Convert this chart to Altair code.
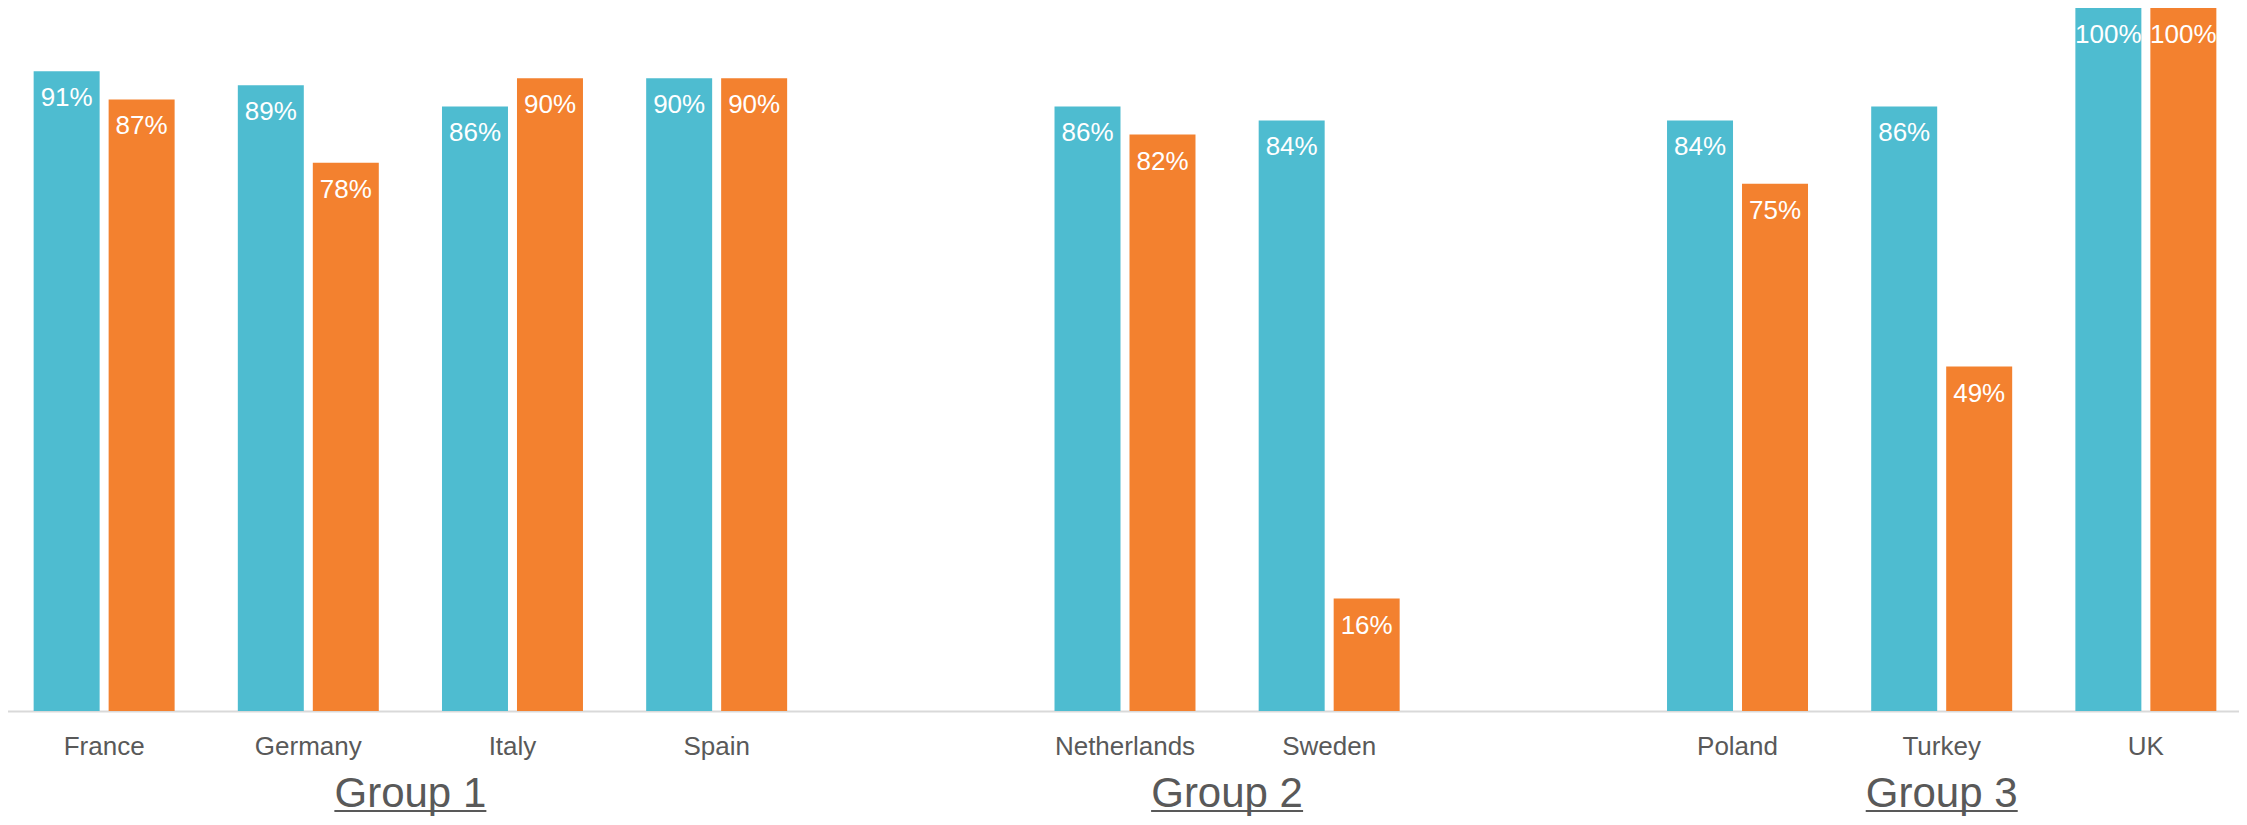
import altair as alt
import pandas as pd

# ---- data ----
countries = ["France", "Germany", "Italy", "Spain", "Netherlands", "Sweden", "Poland", "Turkey", "UK"]
country_groups = ["Group 1", "Group 1", "Group 1", "Group 1", "Group 2", "Group 2", "Group 3", "Group 3", "Group 3"]
group_names = ["Group 1", "Group 2", "Group 3"]
series_names = ["Series 1", "Series 2"]
series_1 = [91, 89, 86, 90, 86, 84, 84, 86, 100]
series_2 = [87, 78, 90, 90, 82, 16, 75, 49, 100]
colors = ["#4EBCD0", "#F3812F"]

# category slots: one empty slot between consecutive groups
slots = []
for gi, g in enumerate(group_names):
    if gi > 0:
        slots.append(" " * gi)
    slots += [c for c, cg in zip(countries, country_groups) if cg == g]
slot_index = {s: i for i, s in enumerate(slots)}

rows = []
for c, a, b in zip(countries, series_1, series_2):
    rows.append({"country": c, "series": series_names[0], "value": a, "label": f"{a}%"})
    rows.append({"country": c, "series": series_names[1], "value": b, "label": f"{b}%"})
df = pd.DataFrame(rows)

grp_rows = []
for g in group_names:
    idx = [slot_index[c] for c, cg in zip(countries, country_groups) if cg == g]
    grp_rows.append({"group": g, "center": sum(idx) / len(idx)})
gdf = pd.DataFrame(grp_rows)

# ---- layout ----
W, H = 2231, 703
X_RANGE = [-6, 2240]
TEXT = "#595959"
FONT = "Liberation Sans"

band_scale = alt.Scale(domain=slots, range=X_RANGE, paddingInner=0.3095, paddingOuter=0.155)
x_band = alt.X(
    "country:N",
    sort=slots,
    scale=band_scale,
    axis=alt.Axis(
        title=None, ticks=False, tickSize=0, labels=True, labelPadding=22, labelFontSize=26,
        labelColor=TEXT, labelFont=FONT, labelAngle=0, labelOverlap=False,
        domain=True, domainColor="#D9D9D9", domainWidth=2, grid=False, orient="bottom",
    ),
)
x_band_noaxis = alt.X("country:N", sort=slots, scale=band_scale, axis=None)
x_off = alt.XOffset("series:N", scale=alt.Scale(domain=series_names, paddingInner=0.12, paddingOuter=0))
y_val = alt.Y("value:Q", scale=alt.Scale(domain=[0, 100], nice=False), axis=None)

bars = alt.Chart(df).mark_bar().encode(
    x=x_band,
    xOffset=x_off,
    y=y_val,
    color=alt.Color("series:N", scale=alt.Scale(domain=series_names, range=colors), legend=None),
)
labels = alt.Chart(df).mark_text(
    baseline="top", dy=14, fontSize=26, font=FONT, color="white"
).encode(x=x_band_noaxis, xOffset=x_off, y=y_val, text="label:N")

x_lin = alt.X(
    "center:Q",
    scale=alt.Scale(domain=[-0.5, len(slots) - 0.5], range=X_RANGE, nice=False, zero=False),
    axis=None,
)
gtext = alt.Chart(gdf).mark_text(
    fontSize=42, font=FONT, color=TEXT, baseline="alphabetic", align="center"
).encode(x=x_lin, y=alt.value(799), text="group:N")
gline = alt.Chart(gdf).mark_rule(
    color=TEXT, strokeWidth=2, xOffset=-76, x2Offset=76
).encode(x=x_lin, x2="center:Q", y=alt.value(803))

chart = alt.layer(
    bars, labels, gtext, gline,
).resolve_scale(x="independent").properties(
    width=W,
    height=H,
    background="white",
    autosize=alt.AutoSizeParams(type="none"),
    padding={"left": 0, "top": 0, "right": 0, "bottom": 106},
).configure_view(stroke=None, strokeWidth=0).configure_axis(
    domain=False, labels=False, ticks=False, grid=False
)

chart.save("out.html", embed_options={"renderer": "svg", "actions": False})
